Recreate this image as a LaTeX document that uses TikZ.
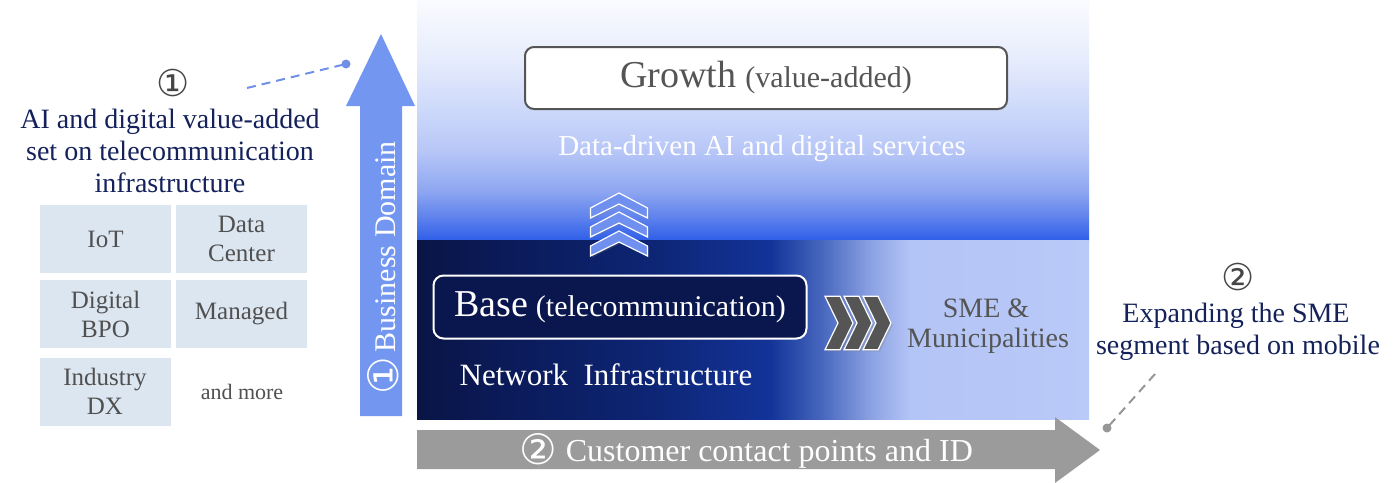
\documentclass[tikz,border=0pt]{standalone}
\usepackage{fontspec}
\setmainfont{Liberation Serif}
\newfontfamily\circfont{DejaVu Sans}
\usetikzlibrary{shadows}

\definecolor{navytext}{RGB}{20,33,90}
\definecolor{circgray}{RGB}{70,70,70}
\definecolor{uparrowc}{RGB}{115,150,240}
\definecolor{grayarrowc}{RGB}{155,155,155}
\definecolor{gridfill}{RGB}{220,230,241}
\definecolor{gridtext}{RGB}{80,80,80}
\definecolor{darkgrayc}{RGB}{85,85,85}
\definecolor{basefill}{RGB}{10,22,78}
\definecolor{chevblue}{RGB}{112,144,240}
\definecolor{dashblue}{RGB}{112,144,232}
\definecolor{dashgray}{RGB}{150,150,150}

\definecolor{tb1}{RGB}{250,251,255}
\definecolor{tb2}{RGB}{230,236,252}
\definecolor{tb3}{RGB}{204,216,250}
\definecolor{tb4}{RGB}{183,198,247}
\definecolor{tb5}{RGB}{141,166,241}
\definecolor{tb6}{RGB}{95,130,236}
\definecolor{tb7}{RGB}{47,95,232}

\definecolor{b1}{RGB}{10,21,69}
\definecolor{b2}{RGB}{11,26,88}
\definecolor{b3}{RGB}{13,37,116}
\definecolor{b4}{RGB}{19,51,153}
\definecolor{b5}{RGB}{69,101,189}
\definecolor{b6}{RGB}{140,162,227}
\definecolor{b7}{RGB}{179,196,246}
\definecolor{b8}{RGB}{185,201,248}

\pgfdeclareverticalshading{topshade}{100bp}{color(0bp)=(tb7); color(25bp)=(tb7); color(29.8bp)=(tb6); color(35.1bp)=(tb5); color(43.5bp)=(tb4); color(51.9bp)=(tb3); color(62.4bp)=(tb2); color(75bp)=(tb1); color(100bp)=(tb1)}
\pgfdeclarehorizontalshading{baseshade}{100bp}{color(0bp)=(b1); color(25bp)=(b1); color(31.2bp)=(b2); color(42.4bp)=(b3); color(51.3bp)=(b4); color(55bp)=(b5); color(58.8bp)=(b6); color(61.7bp)=(b7); color(75bp)=(b8); color(100bp)=(b8)}

\tikzset{
  lefttext/.style={text=navytext, font=\fontsize{28}{32}\selectfont, inner sep=0pt, anchor=base},
  circtext/.style={text=circgray, font=\circfont\fontsize{37}{40}\selectfont, inner sep=0pt},
  gridbox/.style={fill=gridfill, text=gridtext, minimum width=131pt, minimum height=68pt, inner sep=0pt, align=center, font=\fontsize{25}{29}\selectfont},
  whitetext/.style={text=white, inner sep=0pt, anchor=base},
  smetext/.style={text=darkgrayc, font=\fontsize{28}{30}\selectfont, inner sep=0pt, anchor=base},
  upchevstyle/.style={fill=chevblue, draw=white, line width=1.2pt, line join=miter, drop shadow={opacity=0.25, shadow xshift=1.5pt, shadow yshift=-1.5pt}},
  rtchevstyle/.style={fill=darkgrayc, draw=white, line width=1.2pt, line join=miter, drop shadow={opacity=0.25, shadow xshift=2pt, shadow yshift=-2pt}},
  upchev/.pic={\path[upchevstyle] (0,0) -- (28.5,15) -- (28.5,25) -- (0,11) -- (-28.5,25) -- (-28.5,15) -- cycle;},
  rtchev/.pic={\path[rtchevstyle] (0,-26.7) -- (15,-26.7) -- (28,0) -- (15,26.7) -- (0,26.7) -- (13,0) -- cycle;},
  dashconn/.style={line width=2pt, dash pattern=on 9pt off 6pt}
}

\begin{document}
\begin{tikzpicture}[x=1pt,y=-1pt]
\useasboundingbox (0,0) rectangle (1400,482);

% main panels
\shade[shading=topshade] (417,0) rectangle (1089,240);
\shade[shading=baseshade] (417,240) rectangle (1089,419);

% up arrow (business domain)
\fill[uparrowc] (360,416) -- (360,106) -- (346,106) -- (381,34) -- (415,106) -- (402,106) -- (402,416) -- cycle;
\node[text=white, rotate=90, inner sep=0pt, font=\fontsize{30}{34}\selectfont] (bizdomain) at (383,268) {{\circfont\fontsize{42}{44}\selectfont\raisebox{-3pt}{①}}\hspace{5pt}Business Domain};

% gray arrow (customer contact)
\fill[grayarrowc] (417,430) -- (1055,430) -- (1055,417) -- (1100,450) -- (1055,483) -- (1055,469) -- (417,469) -- cycle;
\node[whitetext, font=\fontsize{32}{34}\selectfont] (custcontact) at (746,461) {{\circfont\fontsize{42}{44}\selectfont\raisebox{-3pt}{②}}\hspace{9pt}Customer contact points and ID};

% growth box
\node[draw=darkgrayc, line width=2pt, rounded corners=9pt, fill=white, minimum width=482pt, minimum height=62pt, inner sep=0pt, text=darkgrayc] (growth) at (766,78)
  {{\fontsize{38}{40}\selectfont Growth}\hspace{9pt}{\fontsize{30}{34}\selectfont (value-added)}};
\node[whitetext, font=\fontsize{29}{32}\selectfont] (datadriven) at (762,155) {Data-driven AI and digital services};

% up chevrons
\pic at (619,193) {upchev};
\pic at (619,212) {upchev};
\pic at (619,231) {upchev};

% base box
\node[draw=white, line width=2pt, rounded corners=10pt, fill=basefill, minimum width=373pt, minimum height=63pt, inner sep=0pt, text=white] (base) at (620,307)
  {{\fontsize{38}{40}\selectfont Base}\hspace{8pt}{\fontsize{30}{34}\selectfont (telecommunication)}};
\node[whitetext, font=\fontsize{31}{34}\selectfont] (network) at (606,385) {Network\ \ Infrastructure};

% right chevrons
\pic at (825,323) {rtchev};
\pic at (844,323) {rtchev};
\pic at (863,323) {rtchev};

\node[smetext] (sme1) at (986,317) {SME \&};
\node[smetext] (sme2) at (988,347) {Municipalities};

% left annotation
\node[circtext] (circone) at (173,83) {①};
\node[lefttext] (left1) at (170,128) {AI and digital value-added};
\node[lefttext] (left2) at (170,160) {set on telecommunication};
\node[lefttext] (left3) at (170,192) {infrastructure};

\coordinate (ldashstart) at (247,88);
\coordinate (ldot) at (346,64);
\draw[dashconn, draw=dashblue] (ldashstart) -- (ldot);
\fill[dashblue] (ldot) circle (4.5);

% grid
\node[gridbox] (iot) at (105.5,239) {IoT};
\node[gridbox] (datacenter) at (241.5,239) {Data\\Center};
\node[gridbox] (bpo) at (105.5,314) {Digital\\BPO};
\node[gridbox] (managed) at (241.5,314) {Managed};
\node[gridbox] (industry) at (105,391.5) {Industry\\DX};
\node[text=gridtext, font=\fontsize{22}{26}\selectfont, inner sep=0pt] (andmore) at (242,392) {and more};

% right annotation
\node[circtext] (circtwo) at (1238,277) {②};
\node[lefttext] (right1) at (1236,322) {Expanding the SME};
\node[lefttext] (right2) at (1238,354) {segment based on mobile};

\coordinate (rdashstart) at (1155,374);
\coordinate (rdot) at (1107,428);
\draw[dashconn, draw=dashgray] (rdashstart) -- (rdot);
\fill[dashgray] (rdot) circle (4.5);
\end{tikzpicture}
\end{document}
